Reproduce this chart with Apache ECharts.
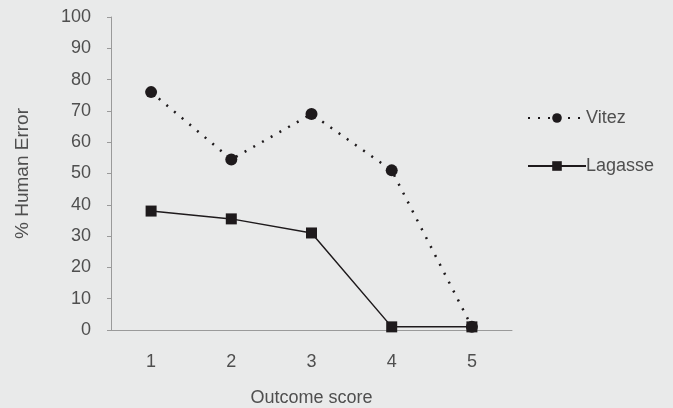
<!DOCTYPE html>
<html>
<head>
<meta charset="utf-8">
<script src="https://cdn.jsdelivr.net/npm/echarts@6/dist/echarts.min.js"></script>
<style>
  html, body { margin: 0; padding: 0; background: #e9eaea; }
  #chart { width: 673px; height: 408px; }
</style>
</head>
<body>
<div id="chart"></div>
<script>
const categories = ['1', '2', '3', '4', '5'];
const vitez = [76, 54.5, 69, 51, 1];
const lagasse = [38, 35.5, 31, 1, 1];

const TEXT_COLOR = '#4f4f4f';
const AXIS_COLOR = '#9a9a9a';
const LINE_COLOR = '#1e1a1c';
const FONT = 'Liberation Sans';

const chart = echarts.init(document.getElementById('chart'));
chart.setOption({
  backgroundColor: '#e9eaea',
  animation: false,
  textStyle: { fontFamily: FONT },
  grid: { left: 111, top: 17, right: 161, bottom: 78, outerBoundsMode: 'none', containLabel: false },
  legend: {
    orient: 'vertical',
    left: 522,
    top: 104,
    itemWidth: 58,
    itemHeight: 12,
    itemGap: 30,
    textStyle: { fontFamily: FONT, fontSize: 18, color: TEXT_COLOR, padding: [0, 0, 0, -5] },
    data: ['Vitez', 'Lagasse']
  },
  xAxis: {
    type: 'category',
    data: categories,
    boundaryGap: true,
    name: 'Outcome score',
    nameLocation: 'middle',
    nameGap: 59,
    nameTextStyle: { fontSize: 18, color: TEXT_COLOR },
    axisLine: { lineStyle: { color: AXIS_COLOR } },
    axisTick: { inside: true, length: 4, lineStyle: { color: AXIS_COLOR } },
    axisLabel: { fontSize: 18, color: TEXT_COLOR, margin: 23 }
  },
  yAxis: {
    type: 'value',
    min: 0,
    max: 100,
    interval: 10,
    name: '% Human Error',
    nameLocation: 'middle',
    nameGap: 79,
    nameTextStyle: { fontSize: 19, color: TEXT_COLOR },
    axisLine: { show: true, lineStyle: { color: AXIS_COLOR } },
    axisTick: { show: true, length: 4, lineStyle: { color: AXIS_COLOR } },
    axisLabel: { fontSize: 18, color: TEXT_COLOR, margin: 20 },
    splitLine: { show: false }
  },
  series: [
    {
      name: 'Vitez',
      type: 'line',
      data: vitez,
      symbol: 'circle',
      symbolSize: 12,
      itemStyle: { color: LINE_COLOR },
      lineStyle: { color: LINE_COLOR, width: 2.5, type: [2, 8] },
      z: 2
    },
    {
      name: 'Lagasse',
      type: 'line',
      data: lagasse,
      symbol: 'rect',
      symbolSize: 11,
      itemStyle: { color: LINE_COLOR },
      lineStyle: { color: LINE_COLOR, width: 1.5 },
      z: 3
    }
  ]
});
</script>
</body>
</html>
